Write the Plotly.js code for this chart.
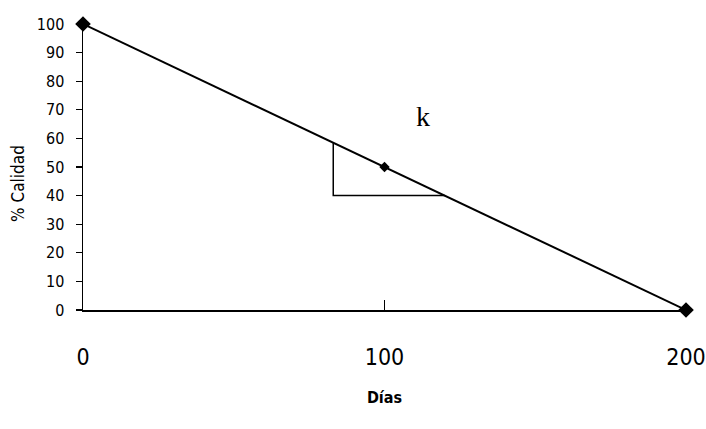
<!DOCTYPE html>
<html><head><meta charset="utf-8">
<script src="https://cdn.plot.ly/plotly-3.0.1.min.js"></script>
<style>html,body{margin:0;padding:0;background:#fff;}#c{width:706px;height:429px;}</style>
</head><body><div id="c"></div>
<script>
const dias = [0, 100, 200];
const calidad = [100, 50, 0];
const triX = [83, 83, 120];
const triY = [58.5, 40, 40];
const xTicks = [0, 100, 200];
const yTicks = [0,10,20,30,40,50,60,70,80,90,100];
const NARROW = "Liberation Sans Narrow, DejaVu Sans Condensed, Arial Narrow, sans-serif";

const traces = [
  {x: dias, y: calidad, mode: 'lines+markers', type: 'scatter',
   line: {color: '#000', width: 2},
   marker: {symbol: 'diamond', size: [12, 8, 12], color: '#000', opacity: 1, line: {width: 0}},
   cliponaxis: false, showlegend: false, hoverinfo: 'none'},
  {x: triX, y: triY, mode: 'lines', type: 'scatter',
   line: {color: '#000', width: 1.5}, showlegend: false, hoverinfo: 'none'}
];

const layout = {
  width: 706, height: 429,
  margin: {l: 83, r: 20, t: 24, b: 119},
  paper_bgcolor: '#fff', plot_bgcolor: '#fff',
  showlegend: false,
  xaxis: {range: [0, 200], tickvals: xTicks, ticktext: xTicks.map(String),
    showgrid: false, zeroline: false, showline: true, linecolor: '#000', linewidth: 1.5,
    ticks: 'inside', ticklen: 10, tickcolor: '#000', tickwidth: 1.5,
    ticklabelstandoff: 26,
    tickfont: {family: NARROW, size: 23, color: '#000'},
    title: {text: '<b>Días</b>', font: {family: NARROW, size: 16, color: '#000'}, standoff: 22}},
  yaxis: {range: [0, 100], tickvals: yTicks, ticktext: yTicks.map(String),
    showgrid: false, zeroline: false, showline: true, linecolor: '#000', linewidth: 1.5,
    ticks: 'outside', ticklen: 6, tickcolor: '#000', tickwidth: 1.2,
    ticklabelstandoff: 8,
    tickfont: {family: NARROW, size: 16, color: '#000'}},
  annotations: [
    {x: 112.8, y: 67.5, xref: 'x', yref: 'y', text: 'k', showarrow: false,
     font: {family: 'Liberation Serif, DejaVu Serif, serif', size: 28, color: '#000'}},
    {x: -0.108, y: 0.444, xref: 'paper', yref: 'paper', xanchor: 'center', yanchor: 'middle',
     text: '% Calidad', textangle: -90,
     showarrow: false, font: {family: NARROW, size: 17, color: '#000'}}
  ]
};
Plotly.newPlot('c', traces, layout, {staticPlot: true, displayModeBar: false});
</script></body></html>
